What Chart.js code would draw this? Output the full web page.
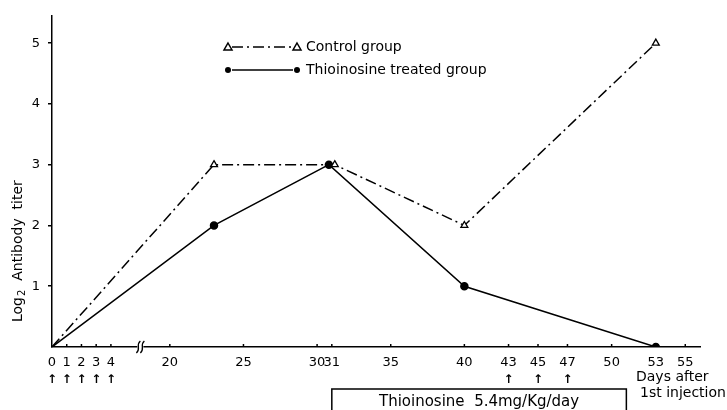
<!DOCTYPE html>
<html>
<head>
<meta charset="utf-8">
<script src="https://cdn.jsdelivr.net/npm/chart.js@4.4.1/dist/chart.umd.min.js"></script>
<style>
  html, body { margin: 0; padding: 0; background: #fff; }
  #wrap { width: 727px; height: 410px; }
</style>
</head>
<body>
<div id="wrap"><canvas id="chart" width="727" height="410"></canvas></div>
<script>
// days after 1st injection
const controlDays = [0, 23, 31.2, 40, 53];
const controlTiter = [0, 3, 3, 2, 5];
const thioDays = [0, 23, 30.8, 40, 53];
const thioTiter = [0, 2, 3, 1, 0];
const tickDays = [0, 1, 2, 3, 4, 20, 25, 30, 31, 35, 40, 43, 45, 47, 50, 53, 55];
const yTicks = [1, 2, 3, 4, 5];
const injectionDays = [0, 1, 2, 3, 4, 43, 45, 47];
const drugStart = 31, drugEnd = 51;

const FONT = 'DejaVu Sans';
const GAP = 12; // days 6..18 are cut out of the axis

function toAxis(d) { return d > 12 ? d - GAP : d; }

const pts = (days, vals) => days.map((d, i) => ({x: toAxis(d), y: vals[i]}));

const extras = {
    id: 'extras',
    afterDraw(chart) {
        const ctx = chart.ctx;
        const xs = chart.scales.x;
        const area = chart.chartArea;
        ctx.save();
        ctx.fillStyle = '#000';
        ctx.strokeStyle = '#000';

        // small tick stubs above the x axis
        ctx.lineWidth = 1.5;
        tickDays.forEach(d => {
            if (d === 0) return;
            const px = xs.getPixelForValue(toAxis(d));
            ctx.beginPath();
            ctx.moveTo(px, area.bottom);
            ctx.lineTo(px, area.bottom - 3);
            ctx.stroke();
        });

        // axis break
        const bx = xs.getPixelForValue(6);
        ctx.fillStyle = '#fff';
        ctx.fillRect(bx - 3, area.bottom - 2, 6, 4);
        ctx.lineWidth = 1.3;
        [-2, 2].forEach(off => {
            ctx.beginPath();
            ctx.moveTo(bx + off + 2, area.bottom - 6);
            ctx.bezierCurveTo(bx + off - 3, area.bottom - 2, bx + off + 3, area.bottom + 2, bx + off - 2, area.bottom + 6);
            ctx.stroke();
        });

        // injection arrows
        ctx.fillStyle = '#000';
        ctx.font = `bold 12px ${FONT}`;
        ctx.textAlign = 'center';
        ctx.textBaseline = 'middle';
        injectionDays.forEach(d => {
            ctx.fillText('\u2191', xs.getPixelForValue(toAxis(d)), 380);
        });

        // treatment box
        const x1 = xs.getPixelForValue(toAxis(drugStart));
        const x2 = xs.getPixelForValue(toAxis(drugEnd));
        ctx.lineWidth = 1.5;
        ctx.beginPath();
        ctx.moveTo(x1, 415);
        ctx.lineTo(x1, 389);
        ctx.lineTo(x2, 389);
        ctx.lineTo(x2, 415);
        ctx.stroke();
        ctx.font = `15px ${FONT}`;
        ctx.fillText('Thioinosine  5.4mg/Kg/day', (x1 + x2) / 2, 402);

        // axis caption at the right
        ctx.font = `14px ${FONT}`;
        ctx.textAlign = 'left';
        ctx.fillText('Days after', 636, 377);
        ctx.fillText('1st injection', 640, 393);

        // y axis title with subscript
        ctx.translate(18, 322);
        ctx.rotate(-Math.PI / 2);
        ctx.font = `14px ${FONT}`;
        ctx.textBaseline = 'middle';
        ctx.fillText('Log', 0, 0);
        let w = ctx.measureText('Log').width;
        ctx.font = `10px ${FONT}`;
        ctx.fillText('2', w + 1, 4);
        w += ctx.measureText('2').width + 1;
        ctx.font = `14px ${FONT}`;
        ctx.fillText('  Antibody  titer', w, 0);
        ctx.restore();

        // legend
        ctx.save();
        const rows = [
            {y: 47, ds: chart.data.datasets[0]},
            {y: 70, ds: chart.data.datasets[1]}
        ];
        rows.forEach(r => {
            ctx.strokeStyle = '#000';
            ctx.lineWidth = 1.5;
            ctx.setLineDash(r.ds.borderDash || []);
            ctx.beginPath();
            ctx.moveTo(232, r.y);
            ctx.lineTo(293, r.y);
            ctx.stroke();
            ctx.setLineDash([]);
            [228, 297].forEach(x => {
                if (r.ds.pointStyle === 'triangle') {
                    ctx.fillStyle = '#fff';
                    ctx.beginPath();
                    ctx.moveTo(x, r.y - 4);
                    ctx.lineTo(x + 4, r.y + 3);
                    ctx.lineTo(x - 4, r.y + 3);
                    ctx.closePath();
                    ctx.fill();
                    ctx.stroke();
                } else {
                    ctx.fillStyle = '#000';
                    ctx.beginPath();
                    ctx.arc(x, r.y, 3, 0, Math.PI * 2);
                    ctx.fill();
                }
            });
            ctx.fillStyle = '#000';
            ctx.font = `14px ${FONT}`;
            ctx.textAlign = 'left';
            ctx.textBaseline = 'middle';
            ctx.fillText(r.ds.label, 306, r.y);
        });
        ctx.restore();
    }
};

new Chart(document.getElementById('chart'), {
    type: 'scatter',
    data: {
        datasets: [
            {
                label: 'Control group',
                data: pts(controlDays, controlTiter),
                showLine: true,
                borderColor: '#000',
                borderWidth: 1.5,
                borderDash: [11, 4, 2, 4],
                pointStyle: 'triangle',
                pointRadius: [0, 4, 4, 4, 4],
                pointBackgroundColor: '#fff',
                pointBorderColor: '#000',
                pointBorderWidth: 1.3
            },
            {
                label: 'Thioinosine treated group',
                data: pts(thioDays, thioTiter),
                showLine: true,
                borderColor: '#000',
                borderWidth: 1.5,
                pointStyle: 'circle',
                pointRadius: [0, 3.5, 3.5, 3.5, 3.5],
                pointBackgroundColor: '#000',
                pointBorderColor: '#000'
            }
        ]
    },
    options: {
        responsive: false,
        animation: false,
        layout: { padding: { top: 15, right: 27, left: 0, bottom: 0 } },
        plugins: { legend: { display: false }, tooltip: { enabled: false } },
        scales: {
            x: {
                type: 'linear',
                min: 0,
                max: 44,
                afterFit: s => { s.height = 63; },
                afterBuildTicks: s => { s.ticks = tickDays.map(d => ({value: toAxis(d)})); },
                grid: { display: false },
                border: { display: true, color: '#000', width: 1.5 },
                ticks: {
                    autoSkip: false,
                    maxRotation: 0,
                    padding: 0,
                    color: '#000',
                    font: { family: FONT, size: 13 },
                    callback: (v, i) => String(tickDays[i])
                }
            },
            y: {
                type: 'linear',
                min: 0,
                max: 5.45,
                afterFit: s => { s.width = 52; },
                afterBuildTicks: s => { s.ticks = yTicks.map(v => ({value: v})); },
                grid: { drawOnChartArea: false, tickLength: 4, color: '#000', lineWidth: 1.5 },
                border: { display: true, color: '#000', width: 1.5 },
                ticks: {
                    padding: 8,
                    color: '#000',
                    font: { family: FONT, size: 13 }
                }
            }
        }
    },
    plugins: [extras]
});
</script>
</body>
</html>
